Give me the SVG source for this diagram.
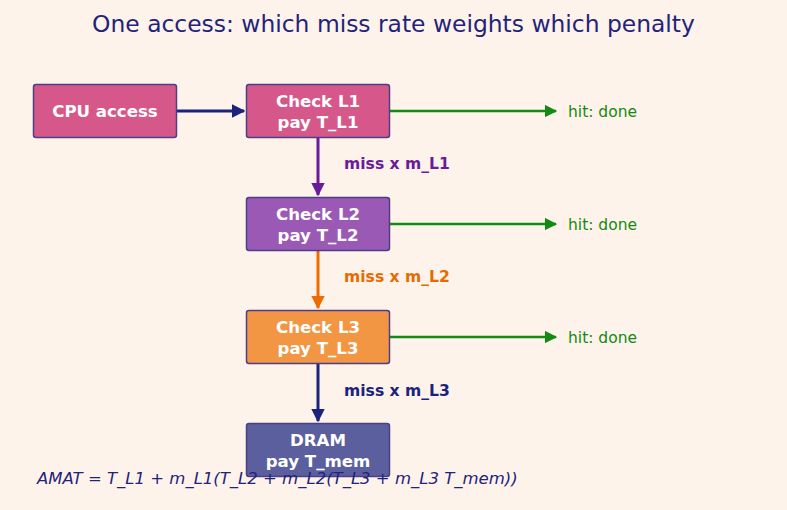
<svg xmlns="http://www.w3.org/2000/svg" width="787" height="510" viewBox="0 0 787 510">
<style>
text{font-family:"DejaVu Sans",sans-serif}
.box{stroke:#4b3f86;stroke-width:1.5}
.bt{fill:#fff;font-weight:bold;font-size:16.6px;text-anchor:middle}
.hit{fill:#138a13;font-size:15.5px}
.ml{font-weight:bold;font-size:15.6px}
</style>
<defs>
<marker id="aN" viewBox="0 0 10 10" refX="9" refY="5" markerWidth="4.5" markerHeight="4.5" orient="auto"><path d="M0,0L10,5L0,10z" fill="#1a237e"/></marker>
<marker id="aP" viewBox="0 0 10 10" refX="9" refY="5" markerWidth="4.5" markerHeight="4.5" orient="auto"><path d="M0,0L10,5L0,10z" fill="#6a1b9a"/></marker>
<marker id="aO" viewBox="0 0 10 10" refX="9" refY="5" markerWidth="4.5" markerHeight="4.5" orient="auto"><path d="M0,0L10,5L0,10z" fill="#ef6c00"/></marker>
<marker id="aG" viewBox="0 0 10 10" refX="9" refY="5" markerWidth="5" markerHeight="5" orient="auto"><path d="M0,0L10,5L0,10z" fill="#138a13"/></marker>
</defs>
<rect width="787" height="510" fill="#fef3ea"/>
<text x="393.5" y="32" font-size="23.4" fill="#1f237a" text-anchor="middle">One access: which miss rate weights which penalty</text>
<g id="connectors" fill="none" stroke-width="3">
<line x1="177" y1="111" x2="244" y2="111" stroke="#1a237e" marker-end="url(#aN)"/>
<line x1="390" y1="111" x2="556" y2="111" stroke="#138a13" stroke-width="2.5" marker-end="url(#aG)"/>
<line x1="390" y1="224" x2="556" y2="224" stroke="#138a13" stroke-width="2.5" marker-end="url(#aG)"/>
<line x1="390" y1="337" x2="556" y2="337" stroke="#138a13" stroke-width="2.5" marker-end="url(#aG)"/>
<line x1="318" y1="138" x2="318" y2="195" stroke="#6a1b9a" marker-end="url(#aP)"/>
<line x1="318" y1="251" x2="318" y2="308" stroke="#ef6c00" marker-end="url(#aO)"/>
<line x1="318" y1="364" x2="318" y2="421" stroke="#1a237e" marker-end="url(#aN)"/>
</g>
<g id="labels">
<text class="hit" x="568" y="116.5">hit: done</text>
<text class="hit" x="568" y="229.5">hit: done</text>
<text class="hit" x="568" y="342.5">hit: done</text>
<text class="ml" x="344" y="168.5" fill="#6a1b9a">miss x m_L1</text>
<text class="ml" x="344" y="281.5" fill="#e56b00">miss x m_L2</text>
<text class="ml" x="344" y="395.5" fill="#1a237e">miss x m_L3</text>
</g>
<g id="cpu"><rect class="box" x="33.5" y="84.5" width="143" height="53" rx="2.5" fill="#d6588a"/><text class="bt" x="105" y="117">CPU access</text></g>
<g id="l1"><rect class="box" x="246.5" y="84.5" width="143" height="53" rx="2.5" fill="#d6588a"/><text class="bt" x="318" y="107">Check L1</text><text class="bt" x="318" y="128">pay T_L1</text></g>
<g id="l2"><rect class="box" x="246.5" y="197.5" width="143" height="53" rx="2.5" fill="#9b59b6"/><text class="bt" x="318" y="220">Check L2</text><text class="bt" x="318" y="241">pay T_L2</text></g>
<g id="l3"><rect class="box" x="246.5" y="310.5" width="143" height="53" rx="2.5" fill="#f39644"/><text class="bt" x="318" y="333">Check L3</text><text class="bt" x="318" y="354">pay T_L3</text></g>
<g id="dram"><rect class="box" x="246.5" y="423.5" width="143" height="53" rx="2.5" fill="#5b5f9e"/><text class="bt" x="318" y="446">DRAM</text><text class="bt" x="318" y="467">pay T_mem</text></g>
<text x="37" y="483.5" font-size="16.5" font-style="italic" fill="#1f237a">AMAT = T_L1 + m_L1(T_L2 + m_L2(T_L3 + m_L3 T_mem))</text>
</svg>
